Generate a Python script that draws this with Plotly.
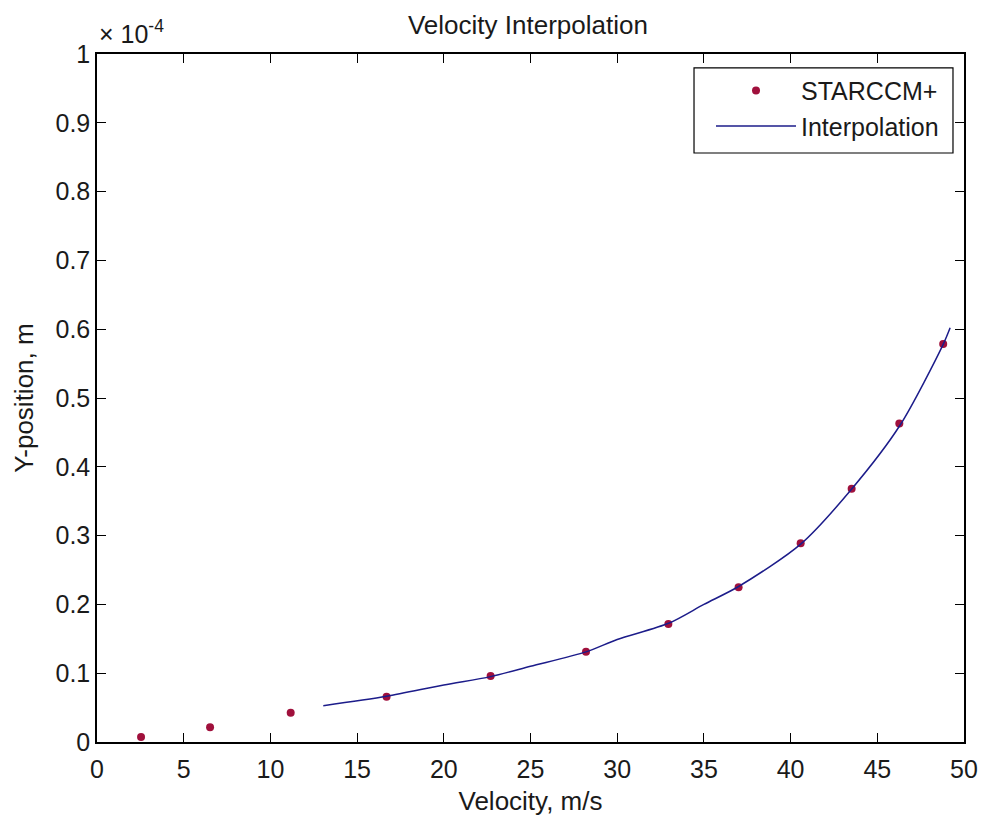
import plotly.graph_objects as go

# STARCCM+ data (velocity m/s, y-position in units of 1e-4 m)
star_v = [2.54, 6.52, 11.17, 16.7, 22.7, 28.2, 32.95, 37.0, 40.58, 43.52, 46.27, 48.8]
star_y = [0.0073, 0.0214, 0.0426, 0.0658, 0.096, 0.131, 0.1715, 0.225, 0.289, 0.368, 0.463, 0.5785]

# Interpolation curve
interp_v = [13.05, 16.7, 20.0, 22.7, 25.0, 28.2, 30.0, 33.0, 35.0, 37.0, 40.6, 43.5, 46.3, 48.8, 49.2]
interp_y = [0.0528, 0.0665, 0.083, 0.095, 0.110, 0.131, 0.149, 0.173, 0.200, 0.226, 0.288, 0.367, 0.460, 0.578, 0.602]

x_ticks = [0, 5, 10, 15, 20, 25, 30, 35, 40, 45, 50]
y_ticks = [0, 0.1, 0.2, 0.3, 0.4, 0.5, 0.6, 0.7, 0.8, 0.9, 1]
y_tick_text = ["0", "0.1", "0.2", "0.3", "0.4", "0.5", "0.6", "0.7", "0.8", "0.9", "1"]

FONT = "Liberation Sans, Arial, sans-serif"
TXT = "#1a1a1a"

fig = go.Figure()
fig.add_trace(go.Scatter(
    x=star_v, y=star_y, mode="markers", name="STARCCM+",
    marker=dict(symbol="circle", size=8, color="#a0103c"),
))
fig.add_trace(go.Scatter(
    x=interp_v, y=interp_y, mode="lines", name="Interpolation",
    line=dict(color="#1c1c8a", width=1.5, shape="spline", smoothing=0.8),
))

fig.update_layout(
    width=984, height=817,
    margin=dict(l=97, r=20, t=54, b=75),
    paper_bgcolor="white", plot_bgcolor="white",
    font=dict(family=FONT, size=25, color=TXT),
    title=dict(text="Velocity Interpolation", x=0.5365, xanchor="center",
               y=0.969, yanchor="middle", font=dict(size=26, color=TXT)),
    showlegend=True,
    legend=dict(
        x=0.7082, xanchor="left", y=0.98, yanchor="top",
        borderwidth=0, bgcolor="rgba(0,0,0,0)",
        font=dict(size=25, color=TXT), itemwidth=80,
        tracegroupgap=0,
    ),
    shapes=[dict(
        type="rect", xref="paper", yref="paper",
        x0=0.6886, x1=0.9873, y0=0.8561, y1=0.9797,
        line=dict(color="black", width=1.2), fillcolor="white", layer="below",
    )],
    xaxis=dict(
        range=[0, 50], tickvals=x_ticks, ticks="inside", ticklen=9,
        tickcolor="black", showline=True, linecolor="black", linewidth=1.5,
        mirror="ticks", showgrid=False, zeroline=False, ticklabelstandoff=4,
        automargin=False,
        tickfont=dict(size=25, color=TXT),
        title=dict(text="Velocity, m/s", font=dict(size=26, color=TXT), standoff=10),
    ),
    yaxis=dict(
        range=[0, 1], tickvals=y_ticks, ticktext=y_tick_text, ticks="inside",
        ticklen=9, tickcolor="black", showline=True, linecolor="black",
        linewidth=1.5, mirror="ticks", showgrid=False, zeroline=False,
        automargin=False,
        tickfont=dict(size=25, color=TXT),
        title=dict(text="Y-position, m", font=dict(size=26, color=TXT), standoff=14),
    ),
    annotations=[dict(
        text="× 10<sup>-4</sup>", xref="paper", yref="paper", x=0, y=1,
        xanchor="left", yanchor="bottom", showarrow=False, yshift=4,
        font=dict(size=25, color=TXT),
    )],
)

fig.write_html("out.html")
